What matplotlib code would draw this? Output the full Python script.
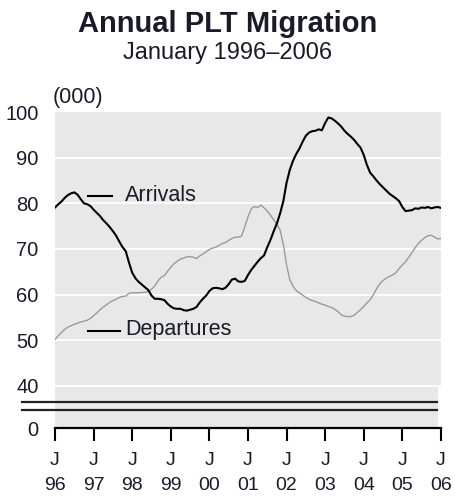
import numpy as np
import matplotlib
matplotlib.use("Agg")
import matplotlib.pyplot as plt
from matplotlib.lines import Line2D
from matplotlib.patches import Rectangle

plt.rcParams['font.family'] = ['Liberation Sans', 'DejaVu Sans']

# monthly values, January 1996 to January 2006 (000)
arrivals = [
    79.1, 79.8, 80.4, 81.2, 81.8, 82.2, 82.4, 81.9, 80.9, 80.0, 79.8, 79.4,
    78.6, 77.9, 77.2, 76.3, 75.6, 74.8, 73.9, 72.9, 71.6, 70.4, 69.5, 67.0,
    64.8, 63.6, 62.8, 62.2, 61.6, 61.0, 59.8, 59.1, 59.1, 59.0, 58.8, 58.0,
    57.4, 57.0, 56.9, 56.9, 56.6, 56.5, 56.7, 56.9, 57.3, 58.3, 59.1, 59.8,
    60.8, 61.4, 61.5, 61.4, 61.2, 61.5, 62.3, 63.3, 63.5, 62.9, 62.8, 63.0,
    64.3, 65.4, 66.3, 67.2, 68.0, 68.6, 70.4, 72.0, 73.9, 75.6, 77.8, 80.5,
    84.5, 87.3, 89.3, 90.8, 92.0, 93.5, 94.8, 95.5, 95.8, 95.9, 96.2, 96.0,
    97.6, 98.8, 98.6, 98.1, 97.5, 96.8, 95.9, 95.2, 94.6, 93.9, 93.0, 92.2,
    90.6, 88.4, 86.7, 85.9, 85.0, 84.2, 83.5, 82.8, 82.1, 81.6, 81.1, 80.5,
    79.2, 78.3, 78.4, 78.5, 78.9, 78.8, 79.1, 79.0, 79.2, 78.9, 79.1, 79.2,
    79.0,
]
departures = [
    50.2, 51.0, 51.7, 52.4, 52.9, 53.2, 53.5, 53.8, 54.0, 54.2, 54.4, 54.8,
    55.4, 56.0, 56.7, 57.3, 57.8, 58.3, 58.7, 59.0, 59.4, 59.6, 59.7, 60.3,
    60.4, 60.4, 60.4, 60.5, 60.5, 60.7, 61.2, 61.9, 63.0, 63.8, 64.2, 65.1,
    66.0, 66.8, 67.3, 67.8, 68.0, 68.3, 68.3, 68.2, 67.9, 68.5, 68.9, 69.4,
    69.9, 70.2, 70.4, 70.8, 71.2, 71.4, 71.9, 72.3, 72.6, 72.6, 72.8, 74.9,
    77.0, 78.8, 79.3, 79.1, 79.6, 79.0, 78.3, 77.4, 76.4, 75.4, 74.1, 71.0,
    66.5, 63.3, 61.9, 60.9, 60.4, 59.9, 59.4, 59.0, 58.7, 58.5, 58.2, 57.9,
    57.7, 57.4, 57.2, 56.8, 56.3, 55.6, 55.3, 55.2, 55.2, 55.5, 56.1, 56.7,
    57.4, 58.2, 58.9, 60.0, 61.3, 62.4, 63.1, 63.6, 64.0, 64.3, 64.8, 65.7,
    66.5, 67.2, 68.2, 69.2, 70.3, 71.2, 71.9, 72.5, 72.9, 73.0, 72.6, 72.2,
    72.3,
]
years = list(range(1996, 2007))
year_labels = ['96', '97', '98', '99', '00', '01', '02', '03', '04', '05', '06']
y_ticks = [40, 50, 60, 70, 80, 90, 100]

months = 1996 + np.arange(len(arrivals)) / 12.0
y_floor = 30.8   # where the broken axis puts "0"
txt = '#1a1a2a'

fig = plt.figure(figsize=(4.55, 5.0), dpi=100)
ax = fig.add_axes([0.121, 0.144, 0.848, 0.632])
ax.set_facecolor('#e8e8e8')
ax.set_xlim(1996, 2006)
ax.set_ylim(y_floor, 100)

for v in y_ticks[:-1]:
    ax.axhline(v, color='white', lw=1.3, zorder=1)

ax.plot(months, departures, color='#9a9a9a', lw=1.0, zorder=3)
ax.plot(months, arrivals, color='black', lw=1.5, zorder=4)

# in-chart labels
ax.add_line(Line2D([1996.85, 1997.48], [81.5, 81.5], color='black', lw=1.5))
ax.text(1997.8, 81.8, 'Arrivals', fontsize=15.5, va='center', ha='left',
        color=txt)
ax.add_line(Line2D([1996.85, 1997.68], [52.0, 52.0], color='black', lw=1.5))
ax.text(1997.83, 52.3, 'Departures', fontsize=15.5, va='center', ha='left',
        color=txt)

# notch at right of the break
ax.add_patch(Rectangle((2005.92, y_floor), 0.1, 40 - y_floor - 0.3,
                       facecolor='white', edgecolor='none', zorder=2))

for s in ['left', 'right', 'top']:
    ax.spines[s].set_visible(False)
ax.spines['bottom'].set_linewidth(1.6)

ax.set_yticks([y_floor] + y_ticks)
ax.set_yticklabels(['0'] + [str(v) for v in y_ticks], fontsize=14.5,
                   color=txt)
ax.tick_params(axis='y', length=0, pad=12)

ax.set_xticks(years)
ax.set_xticklabels(['J\n' + l for l in year_labels], fontsize=14,
                   linespacing=1.65, color=txt)
ax.tick_params(axis='x', direction='out', length=9, width=1.5, pad=8)

# axis break lines
for yp in [402, 410]:
    yf = 1 - yp / 500.0
    fig.add_artist(Line2D([22 / 455.0, 437 / 455.0], [yf, yf],
                          color='#222222', lw=1.6))

fig.text(0.5, 1 - 24 / 500.0, 'Annual PLT Migration', fontsize=21,
         fontweight='bold', ha='center', va='center', color=txt)
fig.text(0.5, 1 - 53 / 500.0, 'January 1996\u20132006', fontsize=17,
         ha='center', va='center', color=txt)
fig.text(53 / 455.0, 1 - 97 / 500.0, '(000)', fontsize=15.5, ha='left',
         va='center', color=txt)

fig.savefig('out.png', dpi=100)
